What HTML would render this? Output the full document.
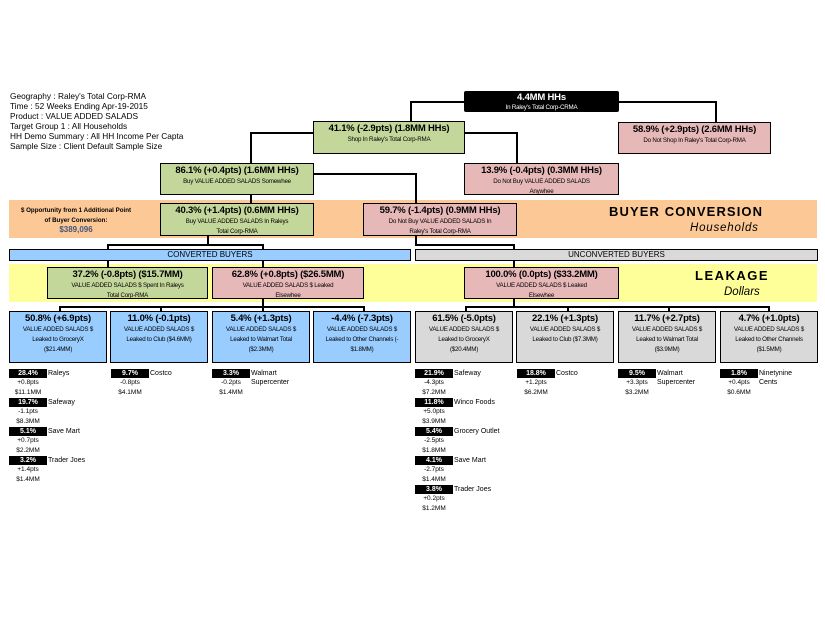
<!DOCTYPE html>
<html><head><meta charset="utf-8"><style>
*{margin:0;padding:0;box-sizing:border-box}
body{width:825px;height:638px;background:#fff;position:relative;overflow:hidden;font-family:"Liberation Sans",Arial,sans-serif;color:#000}
.a{position:absolute}
.b{position:absolute;border:1.5px solid #000;text-align:center;line-height:1.15}
.g{background:#c4d79b}.p{background:#e6b9b8}.bl{background:#99ccff}.gr{background:#d9d9d9}
.h{font-size:9.5px;font-weight:bold;display:block;margin-top:2px;letter-spacing:-0.2px}
.s{font-size:6.2px;display:block;line-height:10px;letter-spacing:-0.2px}
.l{position:absolute;background:#000}
.k{position:absolute;background:#000;color:#fff;font-size:7px;font-weight:bold;width:38px;height:9px;text-align:center;line-height:9px}
.t{position:absolute;font-size:7px;line-height:9px}
.c{position:absolute;font-size:6.5px;width:38px;text-align:center;line-height:10px}
</style></head><body>
<div class="a" style="left:10px;top:91px;font-size:8.3px;line-height:10.1px">Geography : Raley's Total Corp-RMA<br>Time : 52 Weeks Ending Apr-19-2015<br>Product : VALUE ADDED SALADS<br>Target Group 1 : All Households<br>HH Demo Summary : All HH Income Per Capta<br>Sample Size : Client Default Sample Size</div>

<div class="a" style="left:9px;top:200px;width:808px;height:38px;background:#fcc996"></div>
<div class="a" style="left:9px;top:264px;width:808px;height:38px;background:#ffff99"></div>

<!-- lines -->
<div class="l" style="left:410px;top:101px;width:55px;height:1.5px"></div>
<div class="l" style="left:410px;top:101px;width:1.5px;height:21px"></div>
<div class="l" style="left:618px;top:101px;width:98px;height:1.5px"></div>
<div class="l" style="left:715px;top:101px;width:1.5px;height:21px"></div>
<div class="l" style="left:250px;top:132px;width:64px;height:1.5px"></div>
<div class="l" style="left:250px;top:132px;width:1.5px;height:31px"></div>
<div class="l" style="left:464px;top:132px;width:53px;height:1.5px"></div>
<div class="l" style="left:516px;top:132px;width:1.5px;height:31px"></div>
<div class="l" style="left:250px;top:194px;width:1.5px;height:10px"></div>
<div class="l" style="left:313px;top:173px;width:103px;height:1.5px"></div>
<div class="l" style="left:415px;top:173px;width:1.5px;height:31px"></div>
<div class="l" style="left:207px;top:235px;width:1.5px;height:10px"></div>
<div class="l" style="left:107px;top:244px;width:156px;height:1.5px"></div>
<div class="l" style="left:107px;top:244px;width:1.5px;height:6px"></div>
<div class="l" style="left:262px;top:244px;width:1.5px;height:6px"></div>
<div class="l" style="left:415px;top:235px;width:1.5px;height:10px"></div>
<div class="l" style="left:415px;top:244px;width:99px;height:1.5px"></div>
<div class="l" style="left:513px;top:244px;width:1.5px;height:6px"></div>
<div class="l" style="left:107px;top:260px;width:1.5px;height:8px"></div>
<div class="l" style="left:262px;top:260px;width:1.5px;height:8px"></div>
<div class="l" style="left:513px;top:260px;width:1.5px;height:8px"></div>
<div class="l" style="left:262px;top:298px;width:1.5px;height:9px"></div>
<div class="l" style="left:59px;top:306px;width:305px;height:1.5px"></div>
<div class="l" style="left:59px;top:306px;width:1.5px;height:6px"></div>
<div class="l" style="left:160px;top:306px;width:1.5px;height:6px"></div>
<div class="l" style="left:262px;top:306px;width:1.5px;height:6px"></div>
<div class="l" style="left:363px;top:306px;width:1.5px;height:6px"></div>
<div class="l" style="left:513px;top:298px;width:1.5px;height:9px"></div>
<div class="l" style="left:465px;top:306px;width:304px;height:1.5px"></div>
<div class="l" style="left:465px;top:306px;width:1.5px;height:6px"></div>
<div class="l" style="left:567px;top:306px;width:1.5px;height:6px"></div>
<div class="l" style="left:668px;top:306px;width:1.5px;height:6px"></div>
<div class="l" style="left:768px;top:306px;width:1.5px;height:6px"></div>

<!-- boxes -->
<div class="b" style="left:464px;top:91px;width:155px;height:21px;background:#000;color:#fff;border-radius:2px"><span class="h" style="margin-top:1px">4.4MM HHs</span><span class="s" style="line-height:7px">In Raley's Total Corp-CRMA</span></div>
<div class="b g" style="left:313px;top:121px;width:152px;height:33px"><span class="h">41.1% (-2.9pts) (1.8MM HHs)</span><span class="s">Shop In Raley's Total Corp-RMA</span></div>
<div class="b p" style="left:618px;top:122px;width:153px;height:32px"><span class="h">58.9% (+2.9pts) (2.6MM HHs)</span><span class="s">Do Not Shop In Raley's Total Corp-RMA</span></div>
<div class="b g" style="left:160px;top:163px;width:154px;height:32px"><span class="h">86.1% (+0.4pts) (1.6MM HHs)</span><span class="s">Buy VALUE ADDED SALADS Somewhee</span></div>
<div class="b p" style="left:464px;top:163px;width:155px;height:32px"><span class="h">13.9% (-0.4pts) (0.3MM HHs)</span><span class="s">Do Not Buy VALUE ADDED SALADS<br>Anywhee</span></div>
<div class="b g" style="left:160px;top:203px;width:154px;height:33px"><span class="h">40.3% (+1.4pts) (0.6MM HHs)</span><span class="s">Buy VALUE ADDED SALADS In Raleys<br>Total Corp-RMA</span></div>
<div class="b p" style="left:363px;top:203px;width:154px;height:33px"><span class="h">59.7% (-1.4pts) (0.9MM HHs)</span><span class="s">Do Not Buy VALUE ADDED SALADS In<br>Raley's Total Corp-RMA</span></div>

<div class="a" style="left:6px;top:206px;width:140px;text-align:center;font-size:6.2px;font-weight:bold;line-height:10px;white-space:nowrap">$ Opportunity from 1 Additional Point<br>of Buyer Conversion:</div>
<div class="a" style="left:6px;top:225px;width:140px;text-align:center;font-size:8px;font-weight:bold;color:#44557a">$389,096</div>
<div class="a" style="left:609px;top:204px;font-size:13px;font-weight:bold;letter-spacing:1.1px">BUYER CONVERSION</div>
<div class="a" style="left:690px;top:222px;font-size:11.5px;font-style:italic;letter-spacing:0.8px">Households</div>
<div class="a" style="left:695px;top:268px;font-size:13px;font-weight:bold;letter-spacing:1.5px">LEAKAGE</div>
<div class="a" style="left:724px;top:286px;font-size:11.5px;font-style:italic">Dollars</div>

<div class="b bl" style="left:9px;top:249px;width:402px;height:12px;font-size:8px;line-height:9px">CONVERTED BUYERS</div>
<div class="b gr" style="left:415px;top:249px;width:403px;height:12px;font-size:8px;line-height:9px">UNCONVERTED BUYERS</div>

<div class="b g" style="left:47px;top:267px;width:161px;height:32px"><span class="h">37.2% (-0.8pts) ($15.7MM)</span><span class="s">VALUE ADDED SALADS $ Spent In Raleys<br>Total Corp-RMA</span></div>
<div class="b p" style="left:212px;top:267px;width:152px;height:32px"><span class="h">62.8% (+0.8pts) ($26.5MM)</span><span class="s">VALUE ADDED SALADS $ Leaked<br>Elsewhee</span></div>
<div class="b p" style="left:464px;top:267px;width:155px;height:32px"><span class="h">100.0% (0.0pts) ($33.2MM)</span><span class="s">VALUE ADDED SALADS $ Leaked<br>Elsewhee</span></div>

<div class="b bl" style="left:9px;top:311px;width:98px;height:52px"><span class="h">50.8% (+6.9pts)</span><span class="s">VALUE ADDED SALADS $<br>Leaked to GroceryX<br>($21.4MM)</span></div>
<div class="b bl" style="left:110px;top:311px;width:98px;height:52px"><span class="h">11.0% (-0.1pts)</span><span class="s">VALUE ADDED SALADS $<br>Leaked to Club ($4.6MM)</span></div>
<div class="b bl" style="left:212px;top:311px;width:98px;height:52px"><span class="h">5.4% (+1.3pts)</span><span class="s">VALUE ADDED SALADS $<br>Leaked to Walmart Total<br>($2.3MM)</span></div>
<div class="b bl" style="left:313px;top:311px;width:98px;height:52px"><span class="h">-4.4% (-7.3pts)</span><span class="s">VALUE ADDED SALADS $<br>Leaked to Other Channels (-<br>$1.8MM)</span></div>
<div class="b gr" style="left:415px;top:311px;width:98px;height:52px"><span class="h">61.5% (-5.0pts)</span><span class="s">VALUE ADDED SALADS $<br>Leaked to GroceryX<br>($20.4MM)</span></div>
<div class="b gr" style="left:516px;top:311px;width:98px;height:52px"><span class="h">22.1% (+1.3pts)</span><span class="s">VALUE ADDED SALADS $<br>Leaked to Club ($7.3MM)</span></div>
<div class="b gr" style="left:618px;top:311px;width:98px;height:52px"><span class="h">11.7% (+2.7pts)</span><span class="s">VALUE ADDED SALADS $<br>Leaked to Walmart Total<br>($3.9MM)</span></div>
<div class="b gr" style="left:720px;top:311px;width:98px;height:52px"><span class="h">4.7% (+1.0pts)</span><span class="s">VALUE ADDED SALADS $<br>Leaked to Other Channels<br>($1.5MM)</span></div>

<!-- details left -->
<div class="k" style="left:9px;top:369px">28.4%</div><div class="t" style="left:48px;top:369px">Raleys</div><div class="c" style="left:9px;top:378px">+0.8pts<br>$11.1MM</div>
<div class="k" style="left:9px;top:398px">19.7%</div><div class="t" style="left:48px;top:398px">Safeway</div><div class="c" style="left:9px;top:407px">-1.1pts<br>$8.3MM</div>
<div class="k" style="left:9px;top:427px">5.1%</div><div class="t" style="left:48px;top:427px">Save Mart</div><div class="c" style="left:9px;top:436px">+0.7pts<br>$2.2MM</div>
<div class="k" style="left:9px;top:456px">3.2%</div><div class="t" style="left:48px;top:456px">Trader Joes</div><div class="c" style="left:9px;top:465px">+1.4pts<br>$1.4MM</div>
<div class="k" style="left:111px;top:369px">9.7%</div><div class="t" style="left:150px;top:369px">Costco</div><div class="c" style="left:111px;top:378px">-0.8pts<br>$4.1MM</div>
<div class="k" style="left:212px;top:369px">3.3%</div><div class="t" style="left:251px;top:369px">Walmart<br>Supercenter</div><div class="c" style="left:212px;top:378px">-0.2pts<br>$1.4MM</div>

<!-- details right -->
<div class="k" style="left:415px;top:369px">21.9%</div><div class="t" style="left:454px;top:369px">Safeway</div><div class="c" style="left:415px;top:378px">-4.3pts<br>$7.2MM</div>
<div class="k" style="left:415px;top:398px">11.8%</div><div class="t" style="left:454px;top:398px">Winco Foods</div><div class="c" style="left:415px;top:407px">+5.0pts<br>$3.9MM</div>
<div class="k" style="left:415px;top:427px">5.4%</div><div class="t" style="left:454px;top:427px">Grocery Outlet</div><div class="c" style="left:415px;top:436px">-2.5pts<br>$1.8MM</div>
<div class="k" style="left:415px;top:456px">4.1%</div><div class="t" style="left:454px;top:456px">Save Mart</div><div class="c" style="left:415px;top:465px">-2.7pts<br>$1.4MM</div>
<div class="k" style="left:415px;top:485px">3.8%</div><div class="t" style="left:454px;top:485px">Trader Joes</div><div class="c" style="left:415px;top:494px">+0.2pts<br>$1.2MM</div>
<div class="k" style="left:517px;top:369px">18.8%</div><div class="t" style="left:556px;top:369px">Costco</div><div class="c" style="left:517px;top:378px">+1.2pts<br>$6.2MM</div>
<div class="k" style="left:618px;top:369px">9.5%</div><div class="t" style="left:657px;top:369px">Walmart<br>Supercenter</div><div class="c" style="left:618px;top:378px">+3.3pts<br>$3.2MM</div>
<div class="k" style="left:720px;top:369px">1.8%</div><div class="t" style="left:759px;top:369px">Ninetynine<br>Cents</div><div class="c" style="left:720px;top:378px">+0.4pts<br>$0.6MM</div>
</body></html>
